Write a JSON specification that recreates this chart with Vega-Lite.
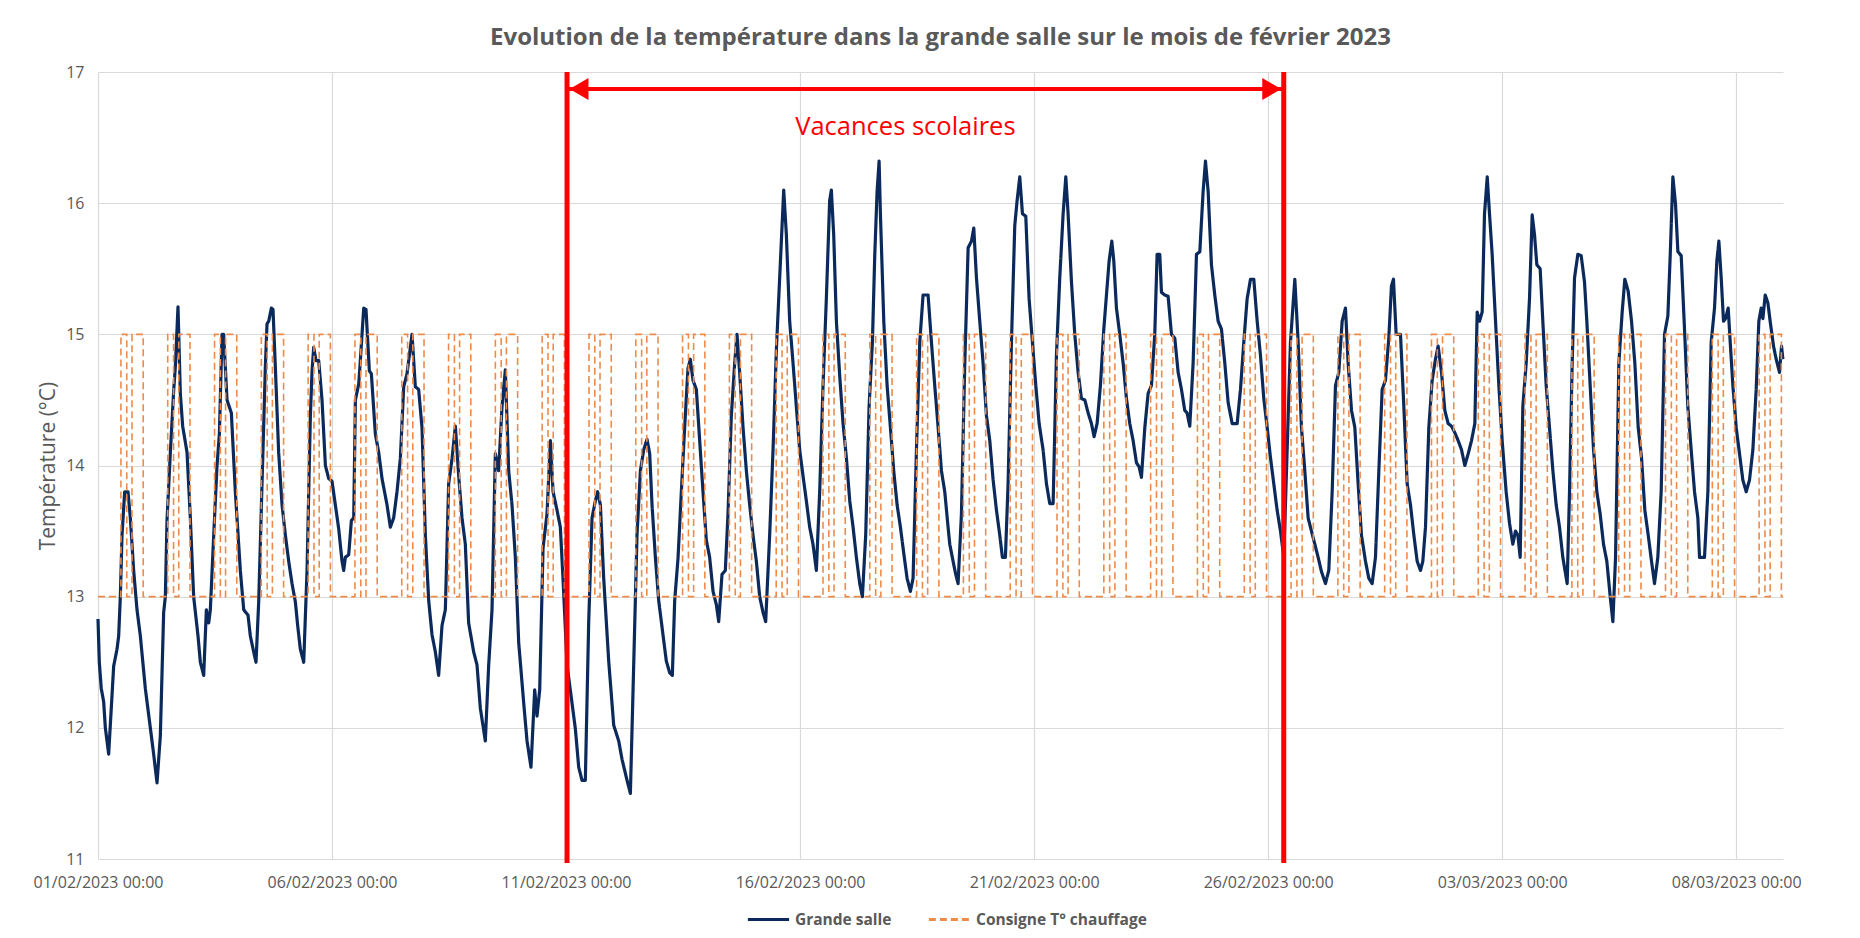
{
"$schema":"https://vega.github.io/schema/vega-lite/v6.json",
"width":1685,"height":787,
"autosize":{"type":"none"},
"padding":{"left":98,"top":72,"right":77,"bottom":79},
"background":"white",
"title":{"text":"Evolution de la température dans la grande salle sur le mois de février 2023"},
"datasets":{
"temp":[
{"t":"2023-02-01T00:00","v":12.83},{"t":"2023-02-01T00:40","v":12.5},{"t":"2023-02-01T01:40","v":12.3},{"t":"2023-02-01T02:54","v":12.2},{"t":"2023-02-01T03:46","v":12.0},{"t":"2023-02-01T05:28","v":11.8},{"t":"2023-02-01T08:02","v":12.47},{"t":"2023-02-01T09:45","v":12.6},{"t":"2023-02-01T10:36","v":12.7},{"t":"2023-02-01T11:27","v":13.0},{"t":"2023-02-01T12:19","v":13.47},{"t":"2023-02-01T13:41","v":13.8},{"t":"2023-02-01T15:23","v":13.8},{"t":"2023-02-01T16:35","v":13.6},{"t":"2023-02-01T18:17","v":13.2},{"t":"2023-02-01T20:00","v":12.9},{"t":"2023-02-01T21:43","v":12.7},
{"t":"2023-02-02T00:16","v":12.3},{"t":"2023-02-02T02:50","v":12.0},{"t":"2023-02-02T04:32","v":11.8},{"t":"2023-02-02T06:16","v":11.58},{"t":"2023-02-02T07:58","v":11.94},{"t":"2023-02-02T09:40","v":12.88},{"t":"2023-02-02T10:32","v":13.0},{"t":"2023-02-02T11:23","v":13.58},{"t":"2023-02-02T13:06","v":14.1},{"t":"2023-02-02T14:48","v":14.57},{"t":"2023-02-02T15:39","v":14.75},{"t":"2023-02-02T17:01","v":15.21},{"t":"2023-02-02T18:13","v":14.55},{"t":"2023-02-02T19:25","v":14.3},{"t":"2023-02-02T21:39","v":14.1},{"t":"2023-02-02T23:21","v":13.6},
{"t":"2023-02-03T01:03","v":13.0},{"t":"2023-02-03T03:17","v":12.7},{"t":"2023-02-03T04:29","v":12.5},{"t":"2023-02-03T06:12","v":12.4},{"t":"2023-02-03T07:34","v":12.9},{"t":"2023-02-03T08:46","v":12.8},{"t":"2023-02-03T09:36","v":12.9},{"t":"2023-02-03T11:20","v":13.47},{"t":"2023-02-03T13:02","v":14.0},{"t":"2023-02-03T14:14","v":14.24},{"t":"2023-02-03T15:36","v":15.0},{"t":"2023-02-03T16:26","v":15.0},{"t":"2023-02-03T18:09","v":14.5},{"t":"2023-02-03T20:23","v":14.4},{"t":"2023-02-03T22:25","v":13.8},
{"t":"2023-02-04T00:59","v":13.2},{"t":"2023-02-04T02:43","v":12.9},{"t":"2023-02-04T04:55","v":12.86},{"t":"2023-02-04T06:07","v":12.7},{"t":"2023-02-04T07:49","v":12.58},{"t":"2023-02-04T09:01","v":12.5},{"t":"2023-02-04T10:24","v":12.96},{"t":"2023-02-04T12:06","v":13.86},{"t":"2023-02-04T13:48","v":14.75},{"t":"2023-02-04T14:40","v":15.08},{"t":"2023-02-04T15:32","v":15.1},{"t":"2023-02-04T16:54","v":15.2},{"t":"2023-02-04T17:44","v":15.19},{"t":"2023-02-04T18:56","v":14.75},{"t":"2023-02-04T20:38","v":14.1},{"t":"2023-02-04T22:22","v":13.7},
{"t":"2023-02-05T00:04","v":13.47},{"t":"2023-02-05T01:47","v":13.27},{"t":"2023-02-05T03:29","v":13.1},{"t":"2023-02-05T05:12","v":12.96},{"t":"2023-02-05T06:23","v":12.78},{"t":"2023-02-05T07:45","v":12.6},{"t":"2023-02-05T09:29","v":12.5},{"t":"2023-02-05T11:11","v":13.2},{"t":"2023-02-05T12:53","v":14.37},{"t":"2023-02-05T13:45","v":14.72},{"t":"2023-02-05T14:36","v":14.9},{"t":"2023-02-05T15:48","v":14.8},{"t":"2023-02-05T17:10","v":14.8},{"t":"2023-02-05T18:52","v":14.5},{"t":"2023-02-05T20:36","v":14.0},{"t":"2023-02-05T22:18","v":13.9},
{"t":"2023-02-06T00:00","v":13.88},{"t":"2023-02-06T01:42","v":13.7},{"t":"2023-02-06T03:24","v":13.52},{"t":"2023-02-06T05:08","v":13.27},{"t":"2023-02-06T05:59","v":13.2},{"t":"2023-02-06T06:50","v":13.3},{"t":"2023-02-06T08:33","v":13.32},{"t":"2023-02-06T09:55","v":13.58},{"t":"2023-02-06T11:07","v":13.6},{"t":"2023-02-06T11:59","v":14.5},{"t":"2023-02-06T13:41","v":14.62},{"t":"2023-02-06T14:31","v":14.8},{"t":"2023-02-06T16:15","v":15.2},{"t":"2023-02-06T17:25","v":15.19},{"t":"2023-02-06T19:09","v":14.72},{"t":"2023-02-06T20:10","v":14.7},{"t":"2023-02-06T22:13","v":14.24},{"t":"2023-02-06T23:56","v":14.1},
{"t":"2023-02-07T01:38","v":13.9},{"t":"2023-02-07T04:12","v":13.7},{"t":"2023-02-07T05:54","v":13.53},{"t":"2023-02-07T07:36","v":13.6},{"t":"2023-02-07T09:19","v":13.8},{"t":"2023-02-07T11:01","v":14.05},{"t":"2023-02-07T12:45","v":14.6},{"t":"2023-02-07T14:27","v":14.7},{"t":"2023-02-07T17:01","v":15.0},{"t":"2023-02-07T18:43","v":14.6},{"t":"2023-02-07T20:25","v":14.58},{"t":"2023-02-07T22:08","v":14.29},{"t":"2023-02-07T23:51","v":13.47},
{"t":"2023-02-08T01:34","v":12.97},{"t":"2023-02-08T03:16","v":12.71},{"t":"2023-02-08T04:58","v":12.58},{"t":"2023-02-08T06:40","v":12.4},{"t":"2023-02-08T08:24","v":12.78},{"t":"2023-02-08T10:06","v":12.9},{"t":"2023-02-08T11:48","v":13.86},{"t":"2023-02-08T13:31","v":14.05},{"t":"2023-02-08T15:14","v":14.3},{"t":"2023-02-08T16:57","v":13.92},{"t":"2023-02-08T18:39","v":13.6},{"t":"2023-02-08T20:21","v":13.4},{"t":"2023-02-08T22:03","v":12.8},
{"t":"2023-02-09T00:37","v":12.58},{"t":"2023-02-09T02:20","v":12.48},{"t":"2023-02-09T04:03","v":12.15},{"t":"2023-02-09T06:36","v":11.9},{"t":"2023-02-09T08:20","v":12.48},{"t":"2023-02-09T10:02","v":12.9},{"t":"2023-02-09T11:44","v":14.09},{"t":"2023-02-09T13:26","v":13.96},{"t":"2023-02-09T15:10","v":14.45},{"t":"2023-02-09T16:52","v":14.73},{"t":"2023-02-09T18:35","v":13.96},{"t":"2023-02-09T20:17","v":13.7},{"t":"2023-02-09T22:00","v":13.3},{"t":"2023-02-09T23:43","v":12.65},
{"t":"2023-02-10T02:17","v":12.19},{"t":"2023-02-10T03:59","v":11.9},{"t":"2023-02-10T06:01","v":11.7},{"t":"2023-02-10T07:55","v":12.29},{"t":"2023-02-10T09:07","v":12.09},{"t":"2023-02-10T10:29","v":12.29},{"t":"2023-02-10T12:12","v":13.37},{"t":"2023-02-10T14:14","v":13.63},{"t":"2023-02-10T15:58","v":14.19},{"t":"2023-02-10T17:20","v":13.8},{"t":"2023-02-10T19:22","v":13.66},{"t":"2023-02-10T21:04","v":13.53},{"t":"2023-02-10T22:26","v":13.14},
{"t":"2023-02-11T00:30","v":12.48},{"t":"2023-02-11T03:03","v":12.19},{"t":"2023-02-11T04:47","v":11.99},{"t":"2023-02-11T06:29","v":11.7},{"t":"2023-02-11T08:11","v":11.6},{"t":"2023-02-11T09:53","v":11.6},{"t":"2023-02-11T11:37","v":12.81},{"t":"2023-02-11T13:19","v":13.6},{"t":"2023-02-11T15:01","v":13.73},{"t":"2023-02-11T16:13","v":13.8},{"t":"2023-02-11T17:36","v":13.7},{"t":"2023-02-11T19:18","v":13.14},{"t":"2023-02-11T21:52","v":12.51},
{"t":"2023-02-12T00:26","v":12.02},{"t":"2023-02-12T03:00","v":11.9},{"t":"2023-02-12T04:42","v":11.76},{"t":"2023-02-12T07:16","v":11.6},{"t":"2023-02-12T08:59","v":11.5},{"t":"2023-02-12T10:41","v":12.48},{"t":"2023-02-12T12:23","v":13.47},{"t":"2023-02-12T14:07","v":13.96},{"t":"2023-02-12T15:49","v":14.12},{"t":"2023-02-12T17:31","v":14.2},{"t":"2023-02-12T18:53","v":14.09},{"t":"2023-02-12T20:05","v":13.7},{"t":"2023-02-12T21:48","v":13.3},{"t":"2023-02-12T23:30","v":12.97},
{"t":"2023-02-13T01:42","v":12.71},{"t":"2023-02-13T03:24","v":12.51},{"t":"2023-02-13T05:08","v":12.42},{"t":"2023-02-13T06:30","v":12.4},{"t":"2023-02-13T07:42","v":12.97},{"t":"2023-02-13T09:24","v":13.29},{"t":"2023-02-13T11:07","v":13.8},{"t":"2023-02-13T12:49","v":14.29},{"t":"2023-02-13T14:31","v":14.74},{"t":"2023-02-13T15:43","v":14.81},{"t":"2023-02-13T17:05","v":14.65},{"t":"2023-02-13T18:48","v":14.58},{"t":"2023-02-13T20:31","v":14.19},{"t":"2023-02-13T22:13","v":13.8},{"t":"2023-02-13T23:56","v":13.43},
{"t":"2023-02-14T01:38","v":13.3},{"t":"2023-02-14T03:22","v":13.04},{"t":"2023-02-14T05:04","v":12.94},{"t":"2023-02-14T06:16","v":12.81},{"t":"2023-02-14T07:58","v":13.17},{"t":"2023-02-14T09:40","v":13.2},{"t":"2023-02-14T11:02","v":13.63},{"t":"2023-02-14T12:45","v":14.38},{"t":"2023-02-14T14:28","v":14.78},{"t":"2023-02-14T15:39","v":15.0},{"t":"2023-02-14T17:01","v":14.71},{"t":"2023-02-14T18:45","v":14.29},{"t":"2023-02-14T20:27","v":13.96},{"t":"2023-02-14T22:09","v":13.7},{"t":"2023-02-14T23:51","v":13.47},
{"t":"2023-02-15T01:35","v":13.27},{"t":"2023-02-15T03:17","v":13.0},{"t":"2023-02-15T05:00","v":12.88},{"t":"2023-02-15T06:22","v":12.81},{"t":"2023-02-15T08:24","v":13.47},{"t":"2023-02-15T10:08","v":14.12},{"t":"2023-02-15T11:50","v":14.88},{"t":"2023-02-15T13:32","v":15.43},{"t":"2023-02-15T15:36","v":16.1},{"t":"2023-02-15T16:58","v":15.76},{"t":"2023-02-15T18:40","v":15.1},{"t":"2023-02-15T20:23","v":14.78},{"t":"2023-02-15T22:05","v":14.45},{"t":"2023-02-15T23:47","v":14.12},
{"t":"2023-02-16T01:31","v":13.92},{"t":"2023-02-16T03:13","v":13.73},{"t":"2023-02-16T04:55","v":13.53},{"t":"2023-02-16T06:37","v":13.4},{"t":"2023-02-16T08:21","v":13.2},{"t":"2023-02-16T10:03","v":13.8},{"t":"2023-02-16T11:46","v":14.61},{"t":"2023-02-16T13:28","v":15.27},{"t":"2023-02-16T15:10","v":16.02},{"t":"2023-02-16T16:02","v":16.1},{"t":"2023-02-16T17:14","v":15.76},{"t":"2023-02-16T18:37","v":15.1},{"t":"2023-02-16T20:20","v":14.68},{"t":"2023-02-16T22:02","v":14.32},{"t":"2023-02-16T23:44","v":14.06},
{"t":"2023-02-17T01:28","v":13.73},{"t":"2023-02-17T03:10","v":13.53},{"t":"2023-02-17T04:52","v":13.3},{"t":"2023-02-17T06:35","v":13.1},{"t":"2023-02-17T07:57","v":13.0},{"t":"2023-02-17T09:39","v":13.47},{"t":"2023-02-17T11:23","v":14.45},{"t":"2023-02-17T13:05","v":14.94},{"t":"2023-02-17T14:17","v":15.6},{"t":"2023-02-17T15:29","v":16.09},{"t":"2023-02-17T16:31","v":16.32},{"t":"2023-02-17T17:11","v":15.92},{"t":"2023-02-17T18:55","v":15.1},{"t":"2023-02-17T20:37","v":14.61},{"t":"2023-02-17T22:19","v":14.29},
{"t":"2023-02-18T00:01","v":13.96},{"t":"2023-02-18T01:45","v":13.7},{"t":"2023-02-18T03:27","v":13.53},{"t":"2023-02-18T05:10","v":13.33},{"t":"2023-02-18T06:52","v":13.14},{"t":"2023-02-18T08:34","v":13.04},{"t":"2023-02-18T09:56","v":13.14},{"t":"2023-02-18T11:40","v":14.12},{"t":"2023-02-18T13:22","v":14.94},{"t":"2023-02-18T15:04","v":15.3},{"t":"2023-02-18T17:38","v":15.3},{"t":"2023-02-18T19:21","v":14.94},{"t":"2023-02-18T21:03","v":14.61},{"t":"2023-02-18T22:47","v":14.29},
{"t":"2023-02-19T00:29","v":13.96},{"t":"2023-02-19T02:11","v":13.8},{"t":"2023-02-19T03:53","v":13.53},{"t":"2023-02-19T04:45","v":13.4},{"t":"2023-02-19T06:27","v":13.27},{"t":"2023-02-19T07:49","v":13.17},{"t":"2023-02-19T09:01","v":13.1},{"t":"2023-02-19T10:44","v":13.63},{"t":"2023-02-19T12:27","v":14.78},{"t":"2023-02-19T14:10","v":15.66},{"t":"2023-02-19T15:52","v":15.71},{"t":"2023-02-19T17:04","v":15.81},{"t":"2023-02-19T18:26","v":15.43},{"t":"2023-02-19T20:08","v":15.1},{"t":"2023-02-19T21:50","v":14.78},{"t":"2023-02-19T23:33","v":14.38},
{"t":"2023-02-20T01:16","v":14.19},{"t":"2023-02-20T02:59","v":13.89},{"t":"2023-02-20T04:41","v":13.66},{"t":"2023-02-20T06:23","v":13.47},{"t":"2023-02-20T07:45","v":13.3},{"t":"2023-02-20T09:17","v":13.3},{"t":"2023-02-20T10:39","v":13.86},{"t":"2023-02-20T12:23","v":14.94},{"t":"2023-02-20T14:05","v":15.83},{"t":"2023-02-20T15:17","v":16.02},{"t":"2023-02-20T16:39","v":16.2},{"t":"2023-02-20T18:01","v":15.92},{"t":"2023-02-20T19:44","v":15.9},{"t":"2023-02-20T21:26","v":15.27},{"t":"2023-02-20T23:08","v":14.94},
{"t":"2023-02-21T00:52","v":14.61},{"t":"2023-02-21T02:34","v":14.32},{"t":"2023-02-21T04:36","v":14.12},{"t":"2023-02-21T06:20","v":13.86},{"t":"2023-02-21T08:02","v":13.71},{"t":"2023-02-21T09:45","v":13.71},{"t":"2023-02-21T11:27","v":14.84},{"t":"2023-02-21T13:09","v":15.43},{"t":"2023-02-21T14:53","v":15.92},{"t":"2023-02-21T16:15","v":16.2},{"t":"2023-02-21T17:25","v":15.92},{"t":"2023-02-21T19:09","v":15.4},{"t":"2023-02-21T20:51","v":15.0},{"t":"2023-02-21T22:34","v":14.71},
{"t":"2023-02-22T00:16","v":14.51},{"t":"2023-02-22T02:00","v":14.5},{"t":"2023-02-22T03:42","v":14.4},{"t":"2023-02-22T05:24","v":14.32},{"t":"2023-02-22T06:46","v":14.22},{"t":"2023-02-22T08:18","v":14.32},{"t":"2023-02-22T10:00","v":14.61},{"t":"2023-02-22T11:44","v":15.04},{"t":"2023-02-22T13:06","v":15.3},{"t":"2023-02-22T14:28","v":15.56},{"t":"2023-02-22T15:50","v":15.71},{"t":"2023-02-22T16:51","v":15.56},{"t":"2023-02-22T18:13","v":15.2},{"t":"2023-02-22T19:55","v":15.0},{"t":"2023-02-22T21:39","v":14.78},{"t":"2023-02-22T23:21","v":14.51},
{"t":"2023-02-23T01:03","v":14.32},{"t":"2023-02-23T02:46","v":14.19},{"t":"2023-02-23T04:29","v":14.02},{"t":"2023-02-23T05:51","v":13.99},{"t":"2023-02-23T07:02","v":13.91},{"t":"2023-02-23T08:46","v":14.29},{"t":"2023-02-23T10:28","v":14.55},{"t":"2023-02-23T12:10","v":14.61},{"t":"2023-02-23T13:52","v":15.0},{"t":"2023-02-23T15:04","v":15.61},{"t":"2023-02-23T16:26","v":15.61},{"t":"2023-02-23T17:18","v":15.32},{"t":"2023-02-23T19:00","v":15.3},{"t":"2023-02-23T20:43","v":15.29},{"t":"2023-02-23T22:25","v":15.0},
{"t":"2023-02-24T00:09","v":14.97},{"t":"2023-02-24T01:51","v":14.71},{"t":"2023-02-24T03:33","v":14.58},{"t":"2023-02-24T05:15","v":14.42},{"t":"2023-02-24T06:27","v":14.4},{"t":"2023-02-24T07:49","v":14.3},{"t":"2023-02-24T09:32","v":14.78},{"t":"2023-02-24T11:15","v":15.61},{"t":"2023-02-24T12:58","v":15.63},{"t":"2023-02-24T14:40","v":16.09},{"t":"2023-02-24T15:52","v":16.32},{"t":"2023-02-24T17:14","v":16.09},{"t":"2023-02-24T18:56","v":15.53},{"t":"2023-02-24T20:38","v":15.3},{"t":"2023-02-24T22:22","v":15.1},
{"t":"2023-02-25T00:04","v":15.04},{"t":"2023-02-25T01:47","v":14.78},{"t":"2023-02-25T03:29","v":14.48},{"t":"2023-02-25T05:33","v":14.32},{"t":"2023-02-25T08:07","v":14.32},{"t":"2023-02-25T09:49","v":14.58},{"t":"2023-02-25T11:31","v":14.94},{"t":"2023-02-25T13:13","v":15.27},{"t":"2023-02-25T14:57","v":15.42},{"t":"2023-02-25T16:39","v":15.42},{"t":"2023-02-25T18:22","v":15.1},{"t":"2023-02-25T20:04","v":14.84},{"t":"2023-02-25T21:46","v":14.51},{"t":"2023-02-25T23:30","v":14.29},
{"t":"2023-02-26T01:12","v":14.06},{"t":"2023-02-26T02:54","v":13.86},{"t":"2023-02-26T04:36","v":13.66},{"t":"2023-02-26T06:20","v":13.5},{"t":"2023-02-26T08:02","v":13.3},{"t":"2023-02-26T09:45","v":14.12},{"t":"2023-02-26T11:27","v":14.94},{"t":"2023-02-26T13:41","v":15.42},{"t":"2023-02-26T15:23","v":14.94},{"t":"2023-02-26T17:05","v":14.29},{"t":"2023-02-26T18:48","v":13.96},{"t":"2023-02-26T20:31","v":13.6},{"t":"2023-02-26T22:13","v":13.5},{"t":"2023-02-26T23:56","v":13.4},
{"t":"2023-02-27T01:38","v":13.3},{"t":"2023-02-27T03:22","v":13.19},{"t":"2023-02-27T05:24","v":13.1},{"t":"2023-02-27T07:06","v":13.2},{"t":"2023-02-27T08:50","v":13.8},{"t":"2023-02-27T10:32","v":14.61},{"t":"2023-02-27T12:14","v":14.71},{"t":"2023-02-27T13:57","v":15.1},{"t":"2023-02-27T15:39","v":15.2},{"t":"2023-02-27T17:01","v":14.78},{"t":"2023-02-27T18:45","v":14.42},{"t":"2023-02-27T20:27","v":14.29},{"t":"2023-02-27T22:09","v":13.86},{"t":"2023-02-27T23:51","v":13.47},
{"t":"2023-02-28T01:55","v":13.27},{"t":"2023-02-28T03:37","v":13.14},{"t":"2023-02-28T05:20","v":13.1},{"t":"2023-02-28T07:02","v":13.3},{"t":"2023-02-28T08:46","v":13.96},{"t":"2023-02-28T10:28","v":14.58},{"t":"2023-02-28T12:10","v":14.65},{"t":"2023-02-28T13:52","v":14.97},{"t":"2023-02-28T15:14","v":15.37},{"t":"2023-02-28T16:16","v":15.42},{"t":"2023-02-28T17:38","v":15.0},{"t":"2023-02-28T19:52","v":15.0},{"t":"2023-02-28T21:35","v":14.45},{"t":"2023-02-28T23:17","v":13.86},
{"t":"2023-03-01T00:59","v":13.7},{"t":"2023-03-01T02:43","v":13.47},{"t":"2023-03-01T04:25","v":13.27},{"t":"2023-03-01T06:07","v":13.2},{"t":"2023-03-01T07:19","v":13.27},{"t":"2023-03-01T08:41","v":13.53},{"t":"2023-03-01T10:24","v":14.29},{"t":"2023-03-01T12:06","v":14.65},{"t":"2023-03-01T13:48","v":14.81},{"t":"2023-03-01T15:10","v":14.91},{"t":"2023-03-01T16:54","v":14.71},{"t":"2023-03-01T18:36","v":14.42},{"t":"2023-03-01T20:18","v":14.32},{"t":"2023-03-01T22:00","v":14.3},{"t":"2023-03-01T23:44","v":14.25},
{"t":"2023-03-02T01:26","v":14.19},{"t":"2023-03-02T03:09","v":14.12},{"t":"2023-03-02T04:51","v":14.0},{"t":"2023-03-02T06:35","v":14.09},{"t":"2023-03-02T08:17","v":14.19},{"t":"2023-03-02T09:59","v":14.32},{"t":"2023-03-02T11:11","v":15.17},{"t":"2023-03-02T12:23","v":15.1},{"t":"2023-03-02T13:45","v":15.17},{"t":"2023-03-02T14:57","v":15.92},{"t":"2023-03-02T16:21","v":16.2},{"t":"2023-03-02T17:30","v":15.92},{"t":"2023-03-02T18:52","v":15.61},{"t":"2023-03-02T20:36","v":15.1},{"t":"2023-03-02T22:18","v":14.61},
{"t":"2023-03-03T00:00","v":14.19},{"t":"2023-03-03T02:02","v":13.8},{"t":"2023-03-03T03:46","v":13.56},{"t":"2023-03-03T05:28","v":13.4},{"t":"2023-03-03T06:50","v":13.5},{"t":"2023-03-03T08:02","v":13.47},{"t":"2023-03-03T09:14","v":13.3},{"t":"2023-03-03T10:36","v":14.45},{"t":"2023-03-03T12:19","v":14.78},{"t":"2023-03-03T14:01","v":15.27},{"t":"2023-03-03T15:23","v":15.91},{"t":"2023-03-03T16:35","v":15.76},{"t":"2023-03-03T17:47","v":15.53},{"t":"2023-03-03T19:29","v":15.5},{"t":"2023-03-03T20:51","v":15.1},{"t":"2023-03-03T22:34","v":14.61},
{"t":"2023-03-04T00:16","v":14.29},{"t":"2023-03-04T02:00","v":13.96},{"t":"2023-03-04T03:42","v":13.7},{"t":"2023-03-04T05:24","v":13.53},{"t":"2023-03-04T07:06","v":13.3},{"t":"2023-03-04T09:20","v":13.1},{"t":"2023-03-04T10:32","v":13.8},{"t":"2023-03-04T11:54","v":14.78},{"t":"2023-03-04T13:06","v":15.43},{"t":"2023-03-04T14:48","v":15.61},{"t":"2023-03-04T16:31","v":15.6},{"t":"2023-03-04T18:13","v":15.4},{"t":"2023-03-04T19:25","v":15.1},{"t":"2023-03-04T21:07","v":14.61},{"t":"2023-03-04T22:51","v":14.12},
{"t":"2023-03-05T00:33","v":13.8},{"t":"2023-03-05T02:15","v":13.63},{"t":"2023-03-05T03:58","v":13.4},{"t":"2023-03-05T05:40","v":13.27},{"t":"2023-03-05T07:24","v":13.0},{"t":"2023-03-05T08:46","v":12.81},{"t":"2023-03-05T10:08","v":13.3},{"t":"2023-03-05T11:50","v":14.78},{"t":"2023-03-05T13:32","v":15.17},{"t":"2023-03-05T14:54","v":15.42},{"t":"2023-03-05T16:36","v":15.33},{"t":"2023-03-05T18:20","v":15.1},{"t":"2023-03-05T20:02","v":14.78},{"t":"2023-03-05T21:45","v":14.29},{"t":"2023-03-05T23:27","v":14.06},
{"t":"2023-03-06T01:09","v":13.66},{"t":"2023-03-06T02:53","v":13.47},{"t":"2023-03-06T04:35","v":13.27},{"t":"2023-03-06T06:07","v":13.1},{"t":"2023-03-06T07:49","v":13.3},{"t":"2023-03-06T09:32","v":13.8},{"t":"2023-03-06T11:15","v":15.0},{"t":"2023-03-06T12:58","v":15.14},{"t":"2023-03-06T14:10","v":15.6},{"t":"2023-03-06T15:32","v":16.2},{"t":"2023-03-06T16:54","v":15.99},{"t":"2023-03-06T18:06","v":15.63},{"t":"2023-03-06T19:48","v":15.6},{"t":"2023-03-06T21:30","v":15.04},{"t":"2023-03-06T23:12","v":14.45},
{"t":"2023-03-07T00:55","v":14.12},{"t":"2023-03-07T02:38","v":13.8},{"t":"2023-03-07T04:21","v":13.6},{"t":"2023-03-07T05:12","v":13.3},{"t":"2023-03-07T07:45","v":13.3},{"t":"2023-03-07T09:29","v":13.8},{"t":"2023-03-07T11:11","v":14.94},{"t":"2023-03-07T12:53","v":15.2},{"t":"2023-03-07T14:05","v":15.56},{"t":"2023-03-07T15:07","v":15.71},{"t":"2023-03-07T16:19","v":15.43},{"t":"2023-03-07T17:30","v":15.1},{"t":"2023-03-07T18:32","v":15.12},{"t":"2023-03-07T19:54","v":15.2},{"t":"2023-03-07T20:56","v":14.94},{"t":"2023-03-07T22:18","v":14.61},
{"t":"2023-03-08T00:00","v":14.29},{"t":"2023-03-08T01:42","v":14.09},{"t":"2023-03-08T03:24","v":13.89},{"t":"2023-03-08T05:08","v":13.8},{"t":"2023-03-08T06:50","v":13.89},{"t":"2023-03-08T08:33","v":14.12},{"t":"2023-03-08T10:15","v":14.58},{"t":"2023-03-08T11:37","v":15.1},{"t":"2023-03-08T12:49","v":15.2},{"t":"2023-03-08T13:41","v":15.12},{"t":"2023-03-08T14:53","v":15.3},{"t":"2023-03-08T16:15","v":15.24},{"t":"2023-03-08T17:25","v":15.1},{"t":"2023-03-08T19:09","v":14.91},{"t":"2023-03-08T20:31","v":14.81},{"t":"2023-03-08T22:13","v":14.71},{"t":"2023-03-08T23:15","v":14.91},{"t":"2023-03-08T23:56","v":14.81}
],
"consigne":[
{"t":"2023-02-01T00:00","v":13},
{"t":"2023-02-01T11:45","v":15},{"t":"2023-02-01T14:45","v":13},{"t":"2023-02-01T17:25","v":15},{"t":"2023-02-01T23:10","v":13},
{"t":"2023-02-02T11:45","v":15},{"t":"2023-02-02T14:45","v":13},{"t":"2023-02-02T17:25","v":15},{"t":"2023-02-02T23:10","v":13},
{"t":"2023-02-03T11:45","v":15},{"t":"2023-02-03T14:45","v":13},{"t":"2023-02-03T17:25","v":15},{"t":"2023-02-03T23:10","v":13},
{"t":"2023-02-04T11:45","v":15},{"t":"2023-02-04T14:45","v":13},{"t":"2023-02-04T17:25","v":15},{"t":"2023-02-04T23:10","v":13},
{"t":"2023-02-05T11:45","v":15},{"t":"2023-02-05T14:45","v":13},{"t":"2023-02-05T17:25","v":15},{"t":"2023-02-05T23:10","v":13},
{"t":"2023-02-06T11:45","v":15},{"t":"2023-02-06T14:45","v":13},{"t":"2023-02-06T17:25","v":15},{"t":"2023-02-06T23:10","v":13},
{"t":"2023-02-07T11:45","v":15},{"t":"2023-02-07T14:45","v":13},{"t":"2023-02-07T17:25","v":15},{"t":"2023-02-07T23:10","v":13},
{"t":"2023-02-08T11:45","v":15},{"t":"2023-02-08T14:45","v":13},{"t":"2023-02-08T17:25","v":15},{"t":"2023-02-08T23:10","v":13},
{"t":"2023-02-09T11:45","v":15},{"t":"2023-02-09T14:45","v":13},{"t":"2023-02-09T17:25","v":15},{"t":"2023-02-09T23:10","v":13},
{"t":"2023-02-10T11:45","v":15},{"t":"2023-02-10T14:45","v":13},{"t":"2023-02-10T17:25","v":15},{"t":"2023-02-10T23:10","v":13},
{"t":"2023-02-11T11:45","v":15},{"t":"2023-02-11T14:45","v":13},{"t":"2023-02-11T17:25","v":15},{"t":"2023-02-11T23:10","v":13},
{"t":"2023-02-12T11:45","v":15},{"t":"2023-02-12T14:45","v":13},{"t":"2023-02-12T17:25","v":15},{"t":"2023-02-12T23:10","v":13},
{"t":"2023-02-13T11:45","v":15},{"t":"2023-02-13T14:45","v":13},{"t":"2023-02-13T17:25","v":15},{"t":"2023-02-13T23:10","v":13},
{"t":"2023-02-14T11:45","v":15},{"t":"2023-02-14T14:45","v":13},{"t":"2023-02-14T17:25","v":15},{"t":"2023-02-14T23:10","v":13},
{"t":"2023-02-15T11:45","v":15},{"t":"2023-02-15T14:45","v":13},{"t":"2023-02-15T17:25","v":15},{"t":"2023-02-15T23:10","v":13},
{"t":"2023-02-16T11:45","v":15},{"t":"2023-02-16T14:45","v":13},{"t":"2023-02-16T17:25","v":15},{"t":"2023-02-16T23:10","v":13},
{"t":"2023-02-17T11:45","v":15},{"t":"2023-02-17T14:45","v":13},{"t":"2023-02-17T17:25","v":15},{"t":"2023-02-17T23:10","v":13},
{"t":"2023-02-18T11:45","v":15},{"t":"2023-02-18T14:45","v":13},{"t":"2023-02-18T17:25","v":15},{"t":"2023-02-18T23:10","v":13},
{"t":"2023-02-19T11:45","v":15},{"t":"2023-02-19T14:45","v":13},{"t":"2023-02-19T17:25","v":15},{"t":"2023-02-19T23:10","v":13},
{"t":"2023-02-20T11:45","v":15},{"t":"2023-02-20T14:45","v":13},{"t":"2023-02-20T17:25","v":15},{"t":"2023-02-20T23:10","v":13},
{"t":"2023-02-21T11:45","v":15},{"t":"2023-02-21T14:45","v":13},{"t":"2023-02-21T17:25","v":15},{"t":"2023-02-21T23:10","v":13},
{"t":"2023-02-22T11:45","v":15},{"t":"2023-02-22T14:45","v":13},{"t":"2023-02-22T17:25","v":15},{"t":"2023-02-22T23:10","v":13},
{"t":"2023-02-23T11:45","v":15},{"t":"2023-02-23T14:45","v":13},{"t":"2023-02-23T17:25","v":15},{"t":"2023-02-23T23:10","v":13},
{"t":"2023-02-24T11:45","v":15},{"t":"2023-02-24T14:45","v":13},{"t":"2023-02-24T17:25","v":15},{"t":"2023-02-24T23:10","v":13},
{"t":"2023-02-25T11:45","v":15},{"t":"2023-02-25T14:45","v":13},{"t":"2023-02-25T17:25","v":15},{"t":"2023-02-25T23:10","v":13},
{"t":"2023-02-26T11:45","v":15},{"t":"2023-02-26T14:45","v":13},{"t":"2023-02-26T17:25","v":15},{"t":"2023-02-26T23:10","v":13},
{"t":"2023-02-27T11:45","v":15},{"t":"2023-02-27T14:45","v":13},{"t":"2023-02-27T17:25","v":15},{"t":"2023-02-27T23:10","v":13},
{"t":"2023-02-28T11:45","v":15},{"t":"2023-02-28T14:45","v":13},{"t":"2023-02-28T17:25","v":15},{"t":"2023-02-28T23:10","v":13},
{"t":"2023-03-01T11:45","v":15},{"t":"2023-03-01T14:45","v":13},{"t":"2023-03-01T17:25","v":15},{"t":"2023-03-01T23:10","v":13},
{"t":"2023-03-02T11:45","v":15},{"t":"2023-03-02T14:45","v":13},{"t":"2023-03-02T17:25","v":15},{"t":"2023-03-02T23:10","v":13},
{"t":"2023-03-03T11:45","v":15},{"t":"2023-03-03T14:45","v":13},{"t":"2023-03-03T17:25","v":15},{"t":"2023-03-03T23:10","v":13},
{"t":"2023-03-04T11:45","v":15},{"t":"2023-03-04T14:45","v":13},{"t":"2023-03-04T17:25","v":15},{"t":"2023-03-04T23:10","v":13},
{"t":"2023-03-05T11:45","v":15},{"t":"2023-03-05T14:45","v":13},{"t":"2023-03-05T17:25","v":15},{"t":"2023-03-05T23:10","v":13},
{"t":"2023-03-06T11:45","v":15},{"t":"2023-03-06T14:45","v":13},{"t":"2023-03-06T17:25","v":15},{"t":"2023-03-06T23:10","v":13},
{"t":"2023-03-07T11:45","v":15},{"t":"2023-03-07T14:45","v":13},{"t":"2023-03-07T17:25","v":15},{"t":"2023-03-07T23:10","v":13},
{"t":"2023-03-08T11:45","v":15},{"t":"2023-03-08T14:45","v":13},{"t":"2023-03-08T17:25","v":15},{"t":"2023-03-08T23:10","v":13},
{"t":"2023-03-09T00:00","v":13}
],
"bornes":[{"date":"2023-02-11T00:30"},{"date":"2023-02-26T08:00"}],
"periode":[{"debut":"2023-02-11T00:30","fin":"2023-02-26T08:00"}],
"libelle":[{"date":"2023-02-18T06:00","label":"Vacances scolaires"}]
},
"layer":[
{"data":{"name":"temp"},
 "mark":{"type":"line","strokeWidth":3.2,"strokeJoin":"round"},
 "encoding":{
  "x":{"field":"t","type":"temporal",
       "scale":{"domain":[{"year":2023,"month":2,"date":1},{"year":2023,"month":3,"date":9}]},
       "axis":{"title":null,"format":"%d/%m/%Y %H:%M","labelPadding":15,"labelFlush":false,"labelOverlap":false,
               "values":[{"year":2023,"month":2,"date":1},{"year":2023,"month":2,"date":6},{"year":2023,"month":2,"date":11},{"year":2023,"month":2,"date":16},{"year":2023,"month":2,"date":21},{"year":2023,"month":2,"date":26},{"year":2023,"month":3,"date":3},{"year":2023,"month":3,"date":8}]}},
  "y":{"field":"v","type":"quantitative",
       "scale":{"domain":[11,17],"nice":false,"zero":false},
       "axis":{"title":"Température (°C)","values":[11,12,13,14,15,16,17],"format":"d","labelPadding":14,"titlePadding":7}},
  "color":{"datum":"Grande salle","type":"nominal",
       "scale":{"domain":["Grande salle","Consigne T° chauffage"],"range":["#0B2A5B","#EE8B4A"]},
       "legend":{"title":null,"orient":"none","legendX":648,"legendY":825}},
  "strokeDash":{"datum":"Grande salle","type":"nominal",
       "scale":{"domain":["Grande salle","Consigne T° chauffage"],"range":[[1,0],[7,4]]},
       "legend":{"title":null,"orient":"none","legendX":648,"legendY":825}}
 }},
{"data":{"name":"consigne"},
 "mark":{"type":"line","interpolate":"step-after","strokeWidth":1.6},
 "encoding":{
  "x":{"field":"t","type":"temporal"},
  "y":{"field":"v","type":"quantitative"},
  "color":{"datum":"Consigne T° chauffage","type":"nominal"},
  "strokeDash":{"datum":"Consigne T° chauffage","type":"nominal"}
 }},
{"data":{"name":"bornes"},
 "mark":{"type":"rule","color":"#FF0000","strokeWidth":5},
 "encoding":{"x":{"field":"date","type":"temporal"},"y":{"datum":17},"y2":{"datum":10.97}}},
{"data":{"name":"periode"},
 "mark":{"type":"rule","color":"#FF0000","strokeWidth":4},
 "encoding":{"x":{"field":"debut","type":"temporal"},"x2":{"field":"fin"},"y":{"datum":16.87}}},
{"data":{"name":"periode"},
 "mark":{"type":"point","shape":"triangle-left","filled":true,"color":"#FF0000","opacity":1,"size":480,"xOffset":12},
 "encoding":{"x":{"field":"debut","type":"temporal"},"y":{"datum":16.87}}},
{"data":{"name":"periode"},
 "mark":{"type":"point","shape":"triangle-right","filled":true,"color":"#FF0000","opacity":1,"size":480,"xOffset":-12},
 "encoding":{"x":{"field":"fin","type":"temporal"},"y":{"datum":16.87}}},
{"data":{"name":"libelle"},
 "mark":{"type":"text","color":"#FF0000","font":"Open Sans","fontSize":25.5,"baseline":"middle","align":"center"},
 "encoding":{"x":{"field":"date","type":"temporal"},"y":{"datum":16.58},"text":{"field":"label"}}}
],
"config":{
 "font":"Open Sans",
 "view":{"stroke":null},
 "title":{"font":"Open Sans","fontSize":24,"fontWeight":"bold","color":"#595959","anchor":"middle","offset":14},
 "axis":{"grid":true,"gridColor":"#d9d9d9","gridWidth":1.2,"domain":false,"ticks":false,
         "labelColor":"#595959","labelFont":"Open Sans","labelFontSize":16,
         "titleColor":"#595959","titleFont":"Open Sans","titleFontWeight":"normal","titleFontSize":21},
 "legend":{"direction":"horizontal","symbolType":"stroke","symbolSize":1700,"symbolStrokeWidth":3,
           "labelFont":"Open Sans","labelFontSize":15.5,"labelFontWeight":"bold","labelColor":"#595959","labelLimit":400,
           "columnPadding":30,"labelOffset":4,"padding":0}
}
}
